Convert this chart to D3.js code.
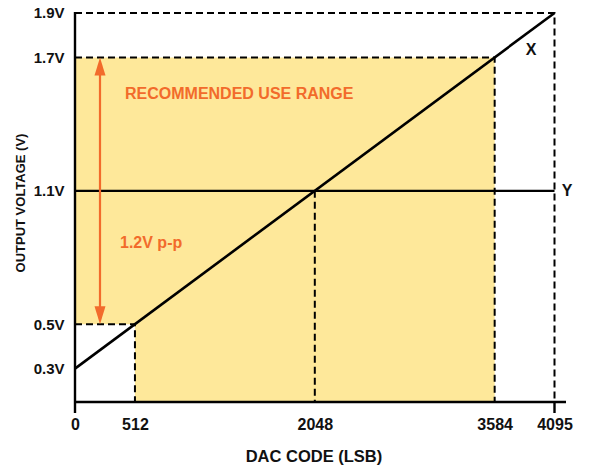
<!DOCTYPE html>
<html>
<head>
<meta charset="utf-8">
<script src="https://cdn.jsdelivr.net/npm/d3@7"></script>
<style>
  html, body { margin: 0; padding: 0; background: #fff; }
  svg { display: block; font-family: "Liberation Sans", Arial, sans-serif; }
</style>
</head>
<body>
<svg id="chart" width="596" height="468"></svg>
<script>
// DAC transfer function: code in, voltage out
const codeTicks = [0, 512, 2048, 3584, 4095];
const voltTicks = [0.3, 0.5, 1.1, 1.7, 1.9];
const voltLabels = ["0.3V", "0.5V", "1.1V", "1.7V", "1.9V"];
const lineXCodes = [0, 4095];
const lineXVolts = [0.3, 1.9];
const lineYCodes = [0, 4095];
const lineYVolts = [1.1, 1.1];
const rangeCodes = [512, 3584];   // recommended code window
const rangeVolts = [0.5, 1.7];    // recommended voltage window
const midCode = 2048;
const midVolt = 1.1;
const fullCode = 4095;
const fullVolt = 1.9;

const svg = d3.select("#chart");
const x = d3.scaleLinear().domain([0, 4095]).range([75, 554.5]);
const y = d3.scaleLinear().domain([0.15, 1.9]).range([402, 13]);
const yBase = y.domain()[0];

const ORANGE = "#F26B2B";
const YELLOW = "#FEE89A";
const INK = "#111";

// Recommended use range (shaded)
const shade = [
  [0, rangeVolts[1]], [rangeCodes[1], rangeVolts[1]], [rangeCodes[1], yBase],
  [rangeCodes[0], yBase], [rangeCodes[0], rangeVolts[0]], [0, rangeVolts[0]]
];
svg.append("path")
  .attr("d", d3.line().x(d => x(d[0])).y(d => y(d[1]))(shade) + "Z")
  .attr("fill", YELLOW);

// Dashed guide lines
const dashed = [
  [[0, fullVolt], [fullCode, fullVolt], [fullCode, yBase]],
  [[0, rangeVolts[1]], [rangeCodes[1], rangeVolts[1]], [rangeCodes[1], yBase]],
  [[0, rangeVolts[0]], [rangeCodes[0], rangeVolts[0]], [rangeCodes[0], yBase]],
  [[midCode, midVolt], [midCode, yBase]]
];
svg.append("g").selectAll("path").data(dashed).join("path")
  .attr("d", d3.line().x(d => x(d[0])).y(d => y(d[1])))
  .attr("fill", "none")
  .attr("stroke", "#000")
  .attr("stroke-width", 2)
  .attr("stroke-dasharray", "7,4");

// Transfer lines X and Y
const lineGen = d3.line().x(d => x(d[0])).y(d => y(d[1]));
svg.append("path")
  .attr("d", lineGen(lineXCodes.map((c, i) => [c, lineXVolts[i]])))
  .attr("stroke", "#000").attr("stroke-width", 2.6).attr("fill", "none");
svg.append("path")
  .attr("d", lineGen(lineYCodes.map((c, i) => [c, lineYVolts[i]])))
  .attr("stroke", "#000").attr("stroke-width", 2.4).attr("fill", "none");

// Axes
const xAxis = d3.axisBottom(x).tickValues(codeTicks)
  .tickFormat(d3.format("d")).tickSize(0).tickPadding(16.5);
const gx = svg.append("g").attr("transform", `translate(0,${y(yBase)})`).call(xAxis);
gx.select(".domain").remove();
gx.selectAll("text").attr("font-size", 16).attr("font-weight", "bold")
  .attr("fill", INK).attr("font-family", "Liberation Sans, Arial, sans-serif");

const yAxis = d3.axisLeft(y).tickValues(voltTicks)
  .tickFormat((d, i) => voltLabels[i]).tickSize(0).tickPadding(10.5);
const gy = svg.append("g").attr("transform", `translate(${x(0)},0)`).call(yAxis);
gy.select(".domain").remove();
gy.selectAll("text").attr("font-size", 15).attr("font-weight", "bold")
  .attr("fill", INK).attr("font-family", "Liberation Sans, Arial, sans-serif");

// Axis lines, with the end ticks at 0 and full scale
svg.append("line")
  .attr("x1", x(0)).attr("x2", 566).attr("y1", y(yBase)).attr("y2", y(yBase))
  .attr("stroke", "#000").attr("stroke-width", 2.4);
svg.append("line")
  .attr("x1", x(0)).attr("x2", x(0)).attr("y1", y(fullVolt) - 1).attr("y2", y(yBase) + 11)
  .attr("stroke", "#000").attr("stroke-width", 2.4);
svg.append("line")
  .attr("x1", x(fullCode)).attr("x2", x(fullCode)).attr("y1", y(yBase)).attr("y2", y(yBase) + 11)
  .attr("stroke", "#000").attr("stroke-width", 2.4);

// Axis titles
svg.append("text")
  .attr("x", 314).attr("y", 462)
  .attr("text-anchor", "middle").attr("font-size", 16.5).attr("font-weight", "bold")
  .attr("fill", INK).text("DAC CODE (LSB)");
svg.append("text")
  .attr("transform", "translate(25,203) rotate(-90)")
  .attr("text-anchor", "middle").attr("font-size", 13).attr("font-weight", "bold")
  .attr("fill", INK).text("OUTPUT VOLTAGE (V)");

// Line labels
svg.append("text").attr("x", 531).attr("y", 55).attr("text-anchor", "middle")
  .attr("font-size", 16).attr("font-weight", "bold").attr("fill", INK).text("X");
svg.append("text").attr("x", 567).attr("y", 196).attr("text-anchor", "middle")
  .attr("font-size", 16).attr("font-weight", "bold").attr("fill", INK).text("Y");

// Peak-to-peak arrow
const ax = 100;
const yTop = y(rangeVolts[1]), yBot = y(rangeVolts[0]);
svg.append("line").attr("x1", ax).attr("x2", ax).attr("y1", yTop + 14).attr("y2", yBot - 14)
  .attr("stroke", ORANGE).attr("stroke-width", 2.2);
svg.append("path")
  .attr("d", `M${ax},${yTop} L${ax - 5.5},${yTop + 18} L${ax + 5.5},${yTop + 18} Z`)
  .attr("fill", ORANGE);
svg.append("path")
  .attr("d", `M${ax},${yBot} L${ax - 5.5},${yBot - 18} L${ax + 5.5},${yBot - 18} Z`)
  .attr("fill", ORANGE);

svg.append("text").attr("x", 125).attr("y", 99)
  .attr("font-size", 16).attr("font-weight", "bold").attr("fill", ORANGE)
  .text("RECOMMENDED USE RANGE");
svg.append("text").attr("x", 120).attr("y", 248)
  .attr("font-size", 16).attr("font-weight", "bold").attr("fill", ORANGE)
  .text(`${d3.format(".1f")(rangeVolts[1] - rangeVolts[0])}V p-p`);
</script>
</body>
</html>
